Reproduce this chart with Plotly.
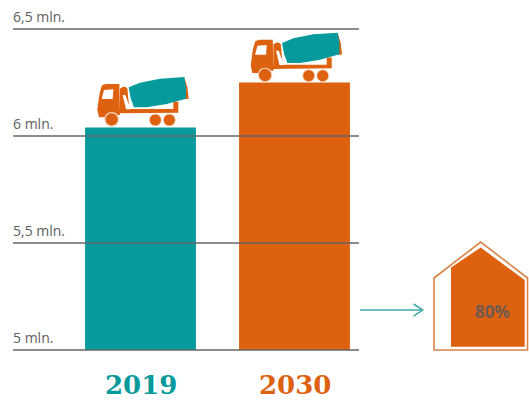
import plotly.graph_objects as go

# Data
years = ["2019", "2030"]
values = [6.04, 6.25]
bar_colors = ["#079A9D", "#DE6110"]
tick_values = [5, 5.5, 6, 6.5]
tick_labels = ["5 mln.", "5,5 mln.", "6 mln.", "6,5 mln."]
house_share = "80%"

TEAL, ORANGE = bar_colors
GREY = "#666666"
W, H = 529, 401
L, R, T, B = 13, 359, 29, 350


def px(x):
    return (x - L) / (R - L)


def py(y):
    return (B - y) / (B - T)


def path(points, close=True):
    d = " ".join(("M" if i == 0 else "L") + f"{px(x):.4f},{py(y):.4f}" for i, (x, y) in enumerate(points))
    return d + (" Z" if close else "")


def poly(points, fill, line=None, lw=0, close=True):
    return dict(type="path", xref="paper", yref="paper", path=path(points, close), layer="above",
                fillcolor=fill if close else "rgba(0,0,0,0)",
                line=dict(color=line or fill, width=lw))


def circle(cx, cy, r, fill, line="white", lw=1):
    return dict(type="circle", xref="paper", yref="paper", layer="above",
                x0=px(cx - r), x1=px(cx + r), y0=py(cy + r), y1=py(cy - r),
                fillcolor=fill, line=dict(color=line, width=lw))


def truck(dx, dy):
    z = lambda pts: [(x / 3 + dx, y / 3 + dy) for x, y in pts]
    out = []
    # chassis and rear frame
    out.append(poly(z([(355, 327), (520, 327), (520, 305), (535, 305), (535, 338), (355, 340)]), ORANGE))
    # column behind the cab
    out.append(poly(z([(360, 265), (382, 265), (388, 328), (360, 330)]), ORANGE))
    out.append(poly(z([(368, 285), (376, 285), (392, 328), (378, 328)]), "white"))
    out.append(circle(dx + 372 / 3, dy + 270 / 3, 3.2, ORANGE, ORANGE, 0))
    # cab
    out.append(poly(z([(306, 256), (318, 252), (358, 252), (360, 345), (345, 345), (320, 352), (297, 352),
                       (292, 330), (296, 298), (300, 275)]), ORANGE))
    out.append(poly(z([(312, 270), (340, 268), (338, 297), (305, 297)]), "white"))
    # drum
    out.append(poly(z([(553, 231), (562, 262), (566, 296), (556, 298)]), ORANGE))
    out.append(poly(z([(386, 262), (420, 248), (480, 236), (553, 231), (558, 262), (558, 296), (500, 312),
                       (440, 322), (402, 322), (392, 295)]), TEAL))
    # wheels
    out.append(circle(dx + 335 / 3, dy + 358 / 3, 6.8, ORANGE, "#F6D9C4", 1.2))
    out.append(circle(dx + 466 / 3, dy + 360 / 3, 6, ORANGE, "#F6D9C4", 0.8))
    out.append(circle(dx + 508 / 3, dy + 360 / 3, 6, ORANGE, "#F6D9C4", 0.8))
    return out


shapes = []
# grid lines sit over the bars
for v in tick_values:
    level = (v - tick_values[0]) / (tick_values[-1] - tick_values[0])
    shapes.append(dict(type="line", xref="paper", yref="paper", x0=0, x1=1, y0=level, y1=level, layer="above",
                       line=dict(color=GREY, width=1.6)))
shapes += truck(0, 0)
shapes += truck(153.4, -44.3)
# arrow
shapes.append(poly([(360, 310), (422.5, 310)], "#3FA9A8", "#3FA9A8", 1.5, close=False))
shapes.append(poly([(413.5, 304), (422.7, 310), (413.5, 316)], "#3FA9A8", "#3FA9A8", 1.5, close=False))
# house
shapes.append(poly([(434, 278), (480.7, 242), (527.5, 278), (527.5, 350), (434, 350)], "white", "#D98345", 1.6))
shapes.append(poly([(451, 267.5), (480.7, 247.5), (524.7, 280), (524.7, 346.7), (451, 346.7)], ORANGE))

annotations = []
for v, t in zip(tick_values, tick_labels):
    annotations.append(dict(xref="paper", yref="y", x=0, y=v, text=t, showarrow=False, xanchor="left",
                            yanchor="bottom", yshift=1, xshift=-2,
                            font=dict(family="Open Sans", size=14, color="#5E5E5E")))
for i, (y, c) in enumerate(zip(years, bar_colors)):
    annotations.append(dict(xref="x", yref="paper", x=i, y=py(385), text=f"<b>{y}</b>", showarrow=False,
                            xanchor="center", yanchor="middle",
                            font=dict(family="DejaVu Serif", size=26, color=c)))
annotations.append(dict(xref="paper", yref="paper", x=px(492.5), y=py(311), text=f"<b>{house_share}</b>",
                        showarrow=False, xanchor="center", yanchor="middle",
                        font=dict(family="Open Sans", size=17, color="#6E5A50")))

fig = go.Figure(go.Bar(x=years, y=values, marker=dict(color=bar_colors, line=dict(width=0)), width=0.72))
fig.update_layout(
    width=W, height=H, autosize=False, showlegend=False,
    margin=dict(l=L, r=W - R, t=T, b=H - B, pad=0),
    paper_bgcolor="white", plot_bgcolor="white",
    shapes=shapes, annotations=annotations,
    xaxis=dict(type="category", categoryorder="array", categoryarray=years,
               range=[(L - 140.5) / 154, (R - 140.5) / 154], visible=False),
    yaxis=dict(range=[5, 6.5], tickvals=tick_values, ticktext=tick_labels, showgrid=False, visible=False),
)
fig.write_html("out.html", post_script="document.body.style.margin='0';", config={"displayModeBar": False})
